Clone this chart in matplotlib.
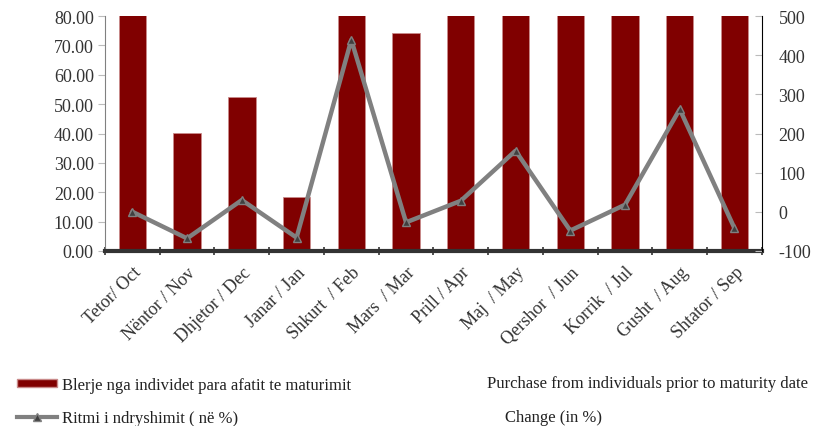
import numpy as np
import matplotlib.pyplot as plt
from matplotlib.lines import Line2D
from matplotlib.patches import Patch

plt.rcParams['font.family'] = ['Liberation Serif', 'DejaVu Serif']
plt.rcParams['axes.unicode_minus'] = False

months = ["Tetor/ Oct", "Nëntor / Nov", "Dhjetor / Dec", "Janar / Jan", "Shkurt  / Feb",
          "Mars  / Mar", "Prill / Apr", "Maj  / May", "Qershor  / Jun", "Korrik  / Jul",
          "Gusht  / Aug", "Shtator / Sep"]
# bars above 80 run off the top of the left axis in the original
purchase = [120, 40.2, 52.3, 18.5, 150, 74.3, 110, 105, 100, 115, 118, 125]
change = [0, -68, 30, -66, 439, -27, 28, 156, -48, 18, 262, -42]

fig = plt.figure(figsize=(8.17, 4.27), dpi=100)
ax = fig.add_axes([0.1285, 0.41, 0.804, 0.55])
x = np.arange(len(months))

bars = ax.bar(x, purchase, width=0.5, color="#800000", edgecolor="#c98a8a", linewidth=0.6)
ax.set_ylim(0, 80)
ax.set_xlim(-0.5, len(months) - 0.5)
ax.set_yticks(np.arange(0, 81, 10))
ax.set_yticklabels([f"{v:.2f}" for v in np.arange(0, 81, 10)])
ax.tick_params(axis='y', direction='out', length=5, color="#bbbbbb", labelsize=13, labelcolor="#333333", pad=3)

ax.set_xticks(x)
ax.set_xticklabels(months, rotation=45, ha='right', rotation_mode='anchor', fontsize=13, color="#333333")
ax.tick_params(axis='x', which='major', length=0, pad=9)
ax.set_xticks(np.arange(-0.5, len(months), 1), minor=True)
ax.tick_params(axis='x', which='minor', direction='inout', length=6, width=1.2, color="#333333")

ax.spines['top'].set_visible(False)
ax.spines['right'].set_visible(False)
ax.spines['left'].set_color("#808080")
ax.spines['bottom'].set_color("#333333")
ax.spines['bottom'].set_linewidth(3)

ax2 = ax.twinx()
line, = ax2.plot(x, change, color="#808080", linewidth=3.2, marker='^', markersize=6,
                 markerfacecolor="#404040", markeredgecolor="#808080", markeredgewidth=1)
ax2.set_ylim(-100, 500)
ax2.set_yticks(np.arange(-100, 501, 100))
ax2.tick_params(axis='y', direction='in', length=5, color="#bbbbbb", labelsize=13, labelcolor="#333333", pad=12)
ax2.spines['top'].set_visible(False)
ax2.spines['left'].set_visible(False)
ax2.spines['bottom'].set_visible(False)
ax2.spines['right'].set_color("black")

h_bar = Patch(facecolor="#800000", edgecolor="#c98a8a")
h_line = Line2D([], [], color="#808080", linewidth=3, marker='^', markersize=6,
                markerfacecolor="#404040", markeredgecolor="#808080")
fig.legend([h_bar, h_line], ["Blerje nga individet para afatit te maturimit", "Ritmi i ndryshimit ( në %)"],
           loc='upper left', bbox_to_anchor=(0.002, 0.15), frameon=False, fontsize=12,
           labelspacing=1.0, handlelength=2.4, handleheight=0.4, handletextpad=0.3,
           labelcolor="#222222")
fig.text(0.596, 0.1, "Purchase from individuals prior to maturity date", fontsize=12, color="#222222", va='center')
fig.text(0.618, 0.021, "Change (in %)", fontsize=12, color="#222222", va='center')

fig.savefig("out.png", dpi=100)
